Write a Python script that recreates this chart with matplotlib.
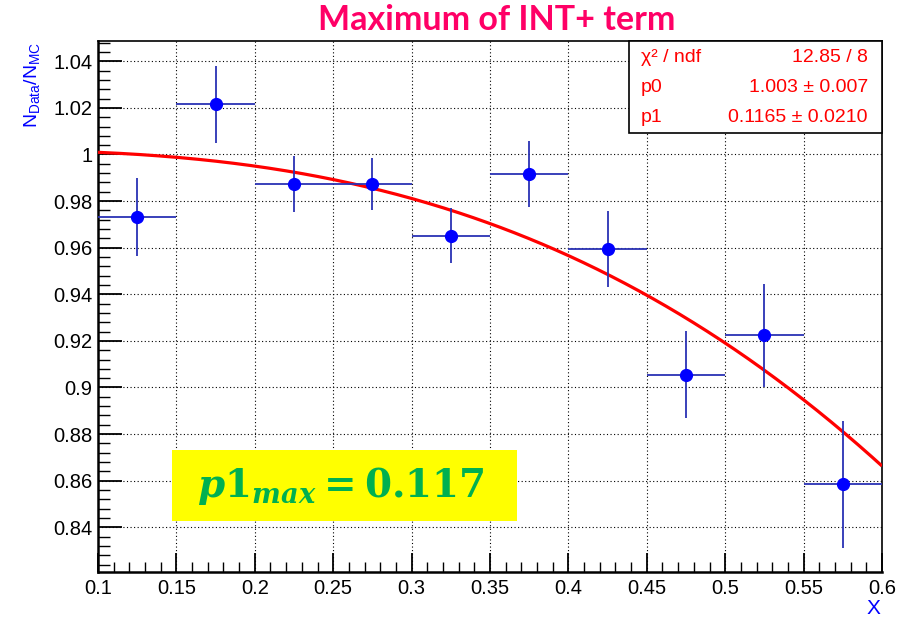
import numpy as np
import matplotlib
matplotlib.use("Agg")
import matplotlib.pyplot as plt
from matplotlib.ticker import MultipleLocator, FuncFormatter

# ---- data ----
x_centers = [0.125, 0.175, 0.225, 0.275, 0.325, 0.375, 0.425, 0.475, 0.525, 0.575]
x_half_width = [0.025] * 10
ratio = [0.9733, 1.0215, 0.9873, 0.9873, 0.9652, 0.9915, 0.9594, 0.9055, 0.9224, 0.8584]
ratio_err = [0.0168, 0.0165, 0.0120, 0.0112, 0.0118, 0.0142, 0.0163, 0.0187, 0.0220, 0.0272]

# fitted curve shape (as drawn): y = c0 - k * x^n
curve_c0 = 1.002
curve_k = 0.539
curve_n = 2.7
curve_range = [0.1, 0.6]

stats_rows = [("χ² / ndf", "12.85 / 8"), ("p0", "1.003 ± 0.007"), ("p1", "0.1165 ± 0.0210")]
title = "Maximum of INT+ term"
ylabel = r"$\mathregular{N_{Data}/N_{MC}}$"
xlabel = "X"
annot = r"$p1_{max} = 0.117$"

plt.rcParams['mathtext.fontset'] = 'custom'
plt.rcParams['mathtext.rm'] = 'DejaVu Serif:bold'
plt.rcParams['mathtext.it'] = 'DejaVu Serif:italic:bold'
plt.rcParams['mathtext.bf'] = 'DejaVu Serif:bold'

W, H = 906, 620
fig = plt.figure(figsize=(W / 100, H / 100), dpi=100)
L, R, T, B = 98, 882, 41, 572
ax = fig.add_axes([L / W, 1 - B / H, (R - L) / W, (B - T) / H])

ax.set_xlim(0.1, 0.6)
ax.set_ylim(0.8208, 1.0487)

# grid
ax.grid(True, which='major', color='black', linestyle=(0, (1, 2.2)), linewidth=0.8)
ax.set_axisbelow(True)

# fit curve
xc = np.linspace(curve_range[0], curve_range[1], 400)
yc = curve_c0 - curve_k * xc ** curve_n
ax.plot(xc, yc, color='#ff0000', lw=2.3, zorder=3, solid_capstyle='butt')

# data points
ax.errorbar(x_centers, ratio, xerr=x_half_width, yerr=ratio_err, fmt='none',
            ecolor='#2a32b4', elinewidth=1.3, capsize=0, zorder=4)
ax.plot(x_centers, ratio, 'o', color='#0000ff', ms=8.5, mec='#0000ff', zorder=5)

# ticks
ax.xaxis.set_major_locator(MultipleLocator(0.05))
ax.xaxis.set_minor_locator(MultipleLocator(0.01))
ax.yaxis.set_major_locator(MultipleLocator(0.02))
ax.yaxis.set_minor_locator(MultipleLocator(0.004))

def fmt(v, pos):
    return ('%.2f' % v).rstrip('0').rstrip('.')
ax.xaxis.set_major_formatter(FuncFormatter(fmt))
ax.yaxis.set_major_formatter(FuncFormatter(fmt))

ax.tick_params(axis='both', which='both', direction='in', top=False, right=False, colors='black')
ax.tick_params(axis='x', which='major', length=14, width=1.3, pad=5)
ax.tick_params(axis='x', which='minor', length=7, width=1.0)
ax.tick_params(axis='y', which='major', length=17, width=1.3, pad=4)
ax.tick_params(axis='y', which='minor', length=8.5, width=1.0)
for lab in ax.get_xticklabels() + ax.get_yticklabels():
    lab.set_fontfamily('Liberation Sans')
    lab.set_fontsize(14.5)

for s in ['left', 'bottom']:
    ax.spines[s].set_linewidth(1.8)
for s in ['top', 'right']:
    ax.spines[s].set_linewidth(1.2)

# title
fig.text(497 / W, 1 - 20 / H, title, ha='center', va='center', color='#ff0066',
         fontsize=24.5, fontweight='bold', family='Lato')

# y label
fig.text(32 / W, 1 - 42 / H, ylabel, rotation=90, ha='center', va='top', color='#0000ff',
         fontsize=14, family='Liberation Sans')
# x label
fig.text(880 / W, 1 - 609 / H, xlabel, ha='right', va='center', color='#0000ff',
         fontsize=15, family='Liberation Sans')

# stats box
bx0, bx1, by0, by1 = 629, 882, 41, 133
fig.patches.append(plt.Rectangle((bx0 / W, 1 - by1 / H), (bx1 - bx0) / W, (by1 - by0) / H,
                                 transform=fig.transFigure, facecolor='white', edgecolor='black',
                                 lw=1.2, zorder=10))
row_y = [57, 87, 118]
for (lt, rt), yy in zip(stats_rows, row_y):
    fig.text(641 / W, 1 - yy / H, lt, ha='left', va='center', color='#ff0000',
             fontsize=14, family='Liberation Sans', zorder=11)
    fig.text(868 / W, 1 - yy / H, rt, ha='right', va='center', color='#ff0000',
             fontsize=14, family='Liberation Sans', zorder=11)

# yellow annotation box
yx0, yx1, yy0, yy1 = 172, 517, 450, 521
fig.patches.append(plt.Rectangle((yx0 / W, 1 - yy1 / H), (yx1 - yx0) / W, (yy1 - yy0) / H,
                                 transform=fig.transFigure, facecolor='#ffff00', edgecolor='none',
                                 zorder=10))
fig.text(341 / W, 1 - 486 / H, annot, ha='center', va='center', color='#00b050',
         fontsize=28, zorder=11)

fig.savefig('out.png', dpi=100)
